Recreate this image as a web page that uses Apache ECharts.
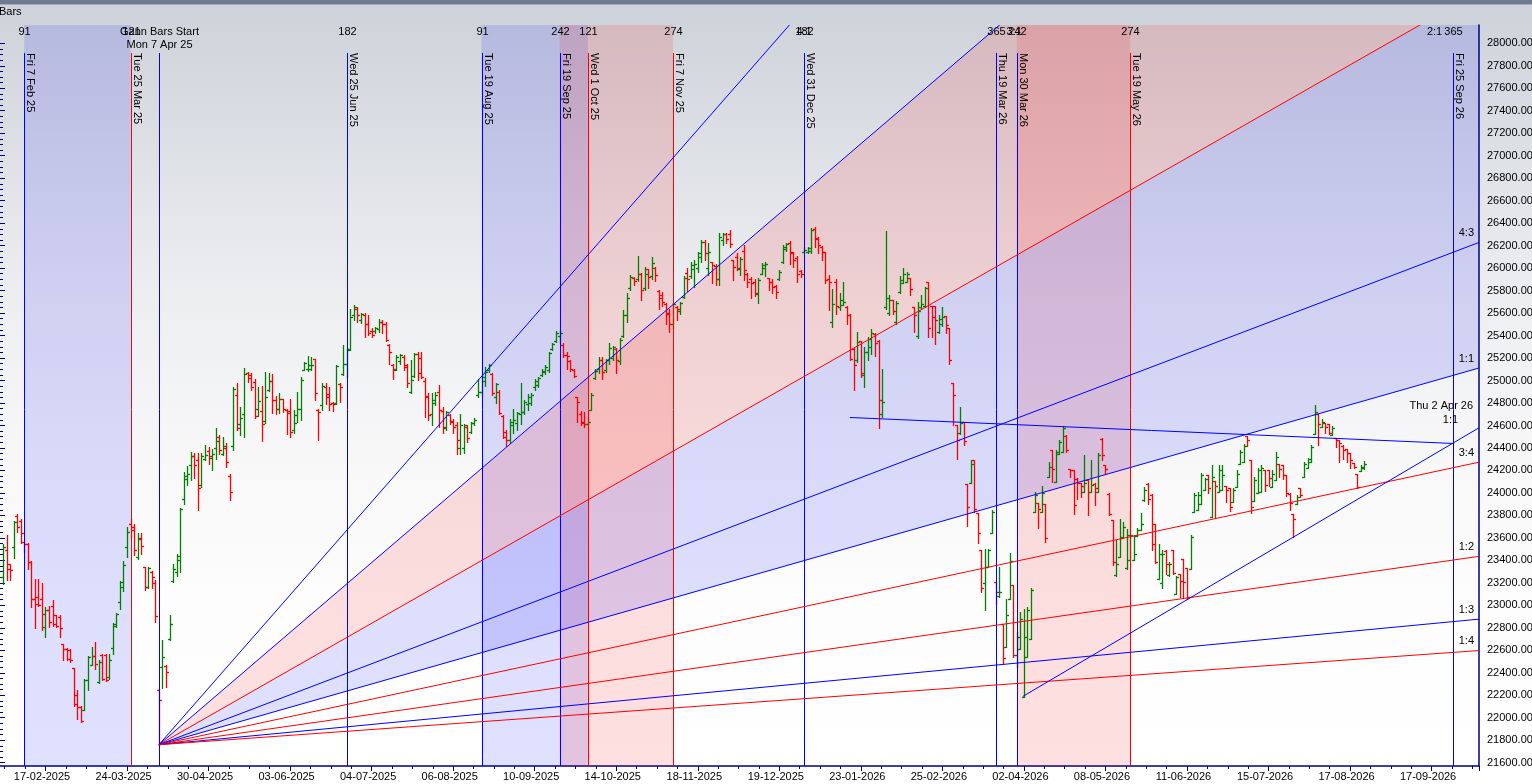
<!DOCTYPE html>
<html lang="en">
<head>
<meta charset="UTF-8">
<title>Gann Bars</title>
<script src="https://cdn.jsdelivr.net/npm/echarts@6.0.0/dist/echarts.min.js"></script>
<style>
  html, body { margin: 0; padding: 0; background: #fff; }
  #chart { width: 1532px; height: 784px; }
</style>
</head>
<body>
<div id="chart"></div>
<script>
// ---------------- data ----------------
// x axis is counted in bars, 17-02-2025 is bar 0, one date label every 23 bars
var tickStep = 23;
var tickLabels = ['17-02-2025', '24-03-2025', '30-04-2025', '03-06-2025', '04-07-2025', '06-08-2025',
    '10-09-2025', '14-10-2025', '18-11-2025', '19-12-2025', '23-01-2026', '25-02-2026',
    '02-04-2026', '08-05-2026', '11-06-2026', '15-07-2026', '17-08-2026', '17-09-2026'];

// daily bars [open, high, low, close], first row is bar -12
var firstBar = -12;
var ohlc = [
    /* -12 */ [23250,23545,23190,23520],[23490,23630,23225,23320],[23365,23370,23225,23310],[23515,23750,23425,23740],[23795,23810,23655,23700],
    /*  -7 */ [23750,23765,23555,23645],[23560,23565,23470,23550],[23550,23555,23320,23385],[23385,23395,22985,23060],[23060,23230,22800,23015],
    /*  -2 */ [23070,23230,22990,23000],[23060,23195,22780,22925],[22810,22985,22720,22955],[22960,22990,22805,22850],[22990,23045,22815,22835],
    /*   3 */ [22910,22915,22805,22820],[22900,22910,22720,22795],[22655,22660,22510,22610],[22615,22620,22510,22525],[22600,22610,22500,22510],
    /*   8 */ [22440,22445,22100,22125],[22200,22250,21990,22095],[22095,22100,21960,21975],[22070,22345,22065,22340],[22340,22545,22250,22540],
    /*  13 */ [22470,22625,22465,22545],[22545,22670,22430,22480],[22320,22515,22310,22500],[22560,22570,22335,22345],[22560,22565,22330,22335],
    /*  18 */ [22360,22570,22345,22510],[22620,22845,22570,22835],[22820,22935,22805,22925],[23030,23215,22970,23205],[23160,23395,23130,23355],
    /*  23 */ [23520,23695,23430,23655],[23720,23770,23595,23670],[23700,23725,23445,23490],[23430,23645,23415,23590],[23600,23640,23455,23525],
    /*  28 */ [23340,23345,23140,23165],[23160,23340,23150,23330],[23300,23305,23150,23250],[23200,23225,22850,22905],[22250,22255,21745,22160],
    /*  33 */ [22450,22690,22265,22540],[22460,22465,22270,22405],[22700,22915,22695,22830],[23220,23370,23210,23325],[23300,23455,23265,23435],
    /*  38 */ [23400,23870,23300,23855],[23950,24185,23905,24125],[24150,24240,24070,24170],[24250,24365,24115,24330],[24330,24355,24135,24245],
    /*  43 */ [24290,24355,23850,24040],[24070,24355,24055,24330],[24300,24430,24290,24335],[24370,24410,24260,24330],[24310,24395,24200,24345],
    /*  48 */ [24400,24580,24305,24460],[24500,24515,24350,24380],[24350,24495,24335,24415],[24400,24445,24230,24275],[24150,24165,23940,24010],
    /*  53 */ [24420,24940,24385,24925],[24870,24975,24560,24580],[24610,24765,24515,24665],[24700,25115,24500,25060],[25070,25080,24990,25020],
    /*  58 */ [25050,25070,24915,24945],[24990,25010,24670,24685],[24745,24945,24680,24815],[24730,24950,24460,24610],[24640,25080,24620,24855],
    /*  63 */ [24920,25070,24910,25000],[25000,25060,24710,24825],[24830,24860,24700,24750],[24750,24885,24710,24835],[24835,24840,24720,24750],
    /*  68 */ [24740,24750,24525,24715],[24730,24840,24495,24540],[24560,24735,24530,24620],[24690,24900,24630,24750],[24750,25035,24645,25005],
    /*  73 */ [25095,25165,25090,25155],[25100,25215,25085,25140],[25100,25210,25090,25140],[25190,25195,24825,24890],[24740,24750,24475,24720],
    /*  78 */ [24780,24975,24735,24955],[24940,24980,24795,24855],[24880,24945,24740,24795],[24800,24810,24730,24790],[24800,25135,24790,25125],
    /*  83 */ [24970,24975,24810,24945],[25060,25315,25045,25150],[25150,25285,25035,25270],[25280,25640,25270,25565],[25580,25670,25535,25650],
    /*  88 */ [25640,25655,25520,25580],[25540,25600,25515,25590],[25580,25600,25385,25505],[25500,25580,25405,25420],[25440,25470,25390,25405],
    /*  93 */ [25440,25480,25425,25465],[25460,25545,25435,25520],[25520,25535,25420,25505],[25500,25520,25355,25360],[25320,25325,25150,25255],
    /*  98 */ [25140,25150,25010,25090],[25100,25225,25090,25210],[25170,25240,25150,25225],[25210,25225,25090,25120],[25140,25150,24945,24975],
    /* 103 */ [24900,25180,24885,25005],[25040,25245,25035,25240],[25240,25250,25005,25065],[25200,25250,25025,25035],[25000,25020,24675,24855],
    /* 108 */ [24860,24885,24645,24690],[24700,24890,24600,24825],[24800,24900,24780,24870],[24900,24960,24585,24735],[24730,24765,24535,24585],
    /* 113 */ [24580,24730,24560,24720],[24690,24705,24615,24630],[24640,24660,24530,24585],[24600,24630,24350,24470],[24400,24700,24350,24600],
    /* 118 */ [24400,24610,24355,24605],[24590,24600,24455,24485],[24540,24630,24535,24620],[24620,24670,24600,24645],[24870,25010,24855,24900],
    /* 123 */ [24900,25045,24860,25035],[25000,25120,24950,25075],[25090,25150,25075,25135],[25060,25065,24870,24885],[24850,24980,24800,24970],
    /* 128 */ [24900,24915,24705,24710],[24680,24690,24485,24500],[24540,24560,24415,24470],[24470,24655,24440,24630],[24600,24750,24530,24645],
    /* 133 */ [24620,24720,24560,24710],[24700,24980,24615,24720],[24720,24825,24705,24810],[24790,24880,24735,24855],[24800,24885,24780,24870],
    /* 138 */ [24940,25010,24920,25000],[24960,25035,24945,25020],[25050,25100,25040,25085],[25080,25135,25055,25120],[25090,25255,25075,25245],
    /* 143 */ [25280,25330,25270,25325],[25350,25440,25345,25420],[25400,25450,25335,25425],[25320,25335,25210,25225],[25230,25255,25105,25215],
    /* 148 */ [25170,25180,25085,25100],[25090,25105,25035,25040],[24850,24855,24630,24810],[24700,24730,24600,24620],[24630,24720,24585,24610],
    /* 153 */ [24610,24675,24600,24630],[24740,24885,24735,24870],[25020,25100,25010,25085],[25100,25210,25065,25180],[25180,25205,25010,25075],
    /* 158 */ [25090,25195,25075,25180],[25180,25330,25150,25285],[25200,25305,25180,25300],[25280,25285,25065,25180],[25170,25375,25150,25360],
    /* 163 */ [25400,25625,25385,25580],[25580,25775,25520,25730],[25820,25935,25805,25925],[25910,25925,25850,25885],[25900,26105,25885,25950],
    /* 168 */ [25950,25960,25715,25805],[25820,26010,25805,25950],[25990,25995,25820,25920],[25930,26095,25900,26045],[26000,26010,25885,25935],
    /* 173 */ [25800,25805,25640,25730],[25760,25790,25660,25700],[25680,25690,25500,25595],[25600,25640,25435,25505],[25500,25690,25465,25685],
    /* 178 */ [25650,25660,25535,25640],[25620,25700,25595,25690],[25740,25930,25730,25915],[25960,26005,25800,25905],[25930,26055,25910,26025],
    /* 183 */ [25990,26070,25835,26040],[26000,26145,25965,26130],[26100,26250,26055,26235],[26230,26250,26075,26130],[26000,26220,25935,26145],
    /* 188 */ [26050,26055,25865,26025],[26020,26040,25850,25900],[25900,26310,25850,26280],[26250,26315,26205,26300],[26300,26315,26220,26255],
    /* 193 */ [26300,26340,26190,26215],[26070,26075,25895,26010],[26100,26130,25980,25995],[26000,26095,25935,26085],[26150,26205,25895,25980],
    /* 198 */ [25950,25960,25835,25880],[25900,25925,25730,25865],[25880,25900,25750,25775],[25770,25915,25690,25895],[25950,26045,25945,26025],
    /* 203 */ [26000,26055,25930,26040],[25910,25915,25805,25880],[25880,25900,25775,25835],[25840,25850,25730,25790],[25900,25980,25895,25965],
    /* 208 */ [26050,26205,26045,26190],[26170,26225,26155,26215],[26220,26245,26040,26140],[26130,26145,26010,26070],[26090,26105,25880,25950],
    /* 213 */ [25975,25980,25925,25945],[26140,26190,26130,26165],[26140,26190,26130,26175],[26150,26355,26130,26340],[26350,26370,26190,26265],
    /* 218 */ [26260,26280,26130,26205],[26190,26195,26070,26145],[26140,26145,25865,25895],[25900,25935,25625,25880],[25520,25810,25480,25685],
    /* 223 */ [25880,25900,25595,25660],[25650,25780,25625,25715],[25675,25880,25670,25700],[25650,25660,25500,25580],[25580,25590,25180,25195],
    /* 228 */ [25280,25285,24915,25135],[25180,25435,25165,25345],[25350,25355,25035,25065],[25050,25300,24940,25255],[25250,25390,25180,25365],
    /* 233 */ [25300,25455,25240,25425],[25415,25420,25215,25330],[25355,25360,24575,24825],[24700,25105,24675,24810],[25650,26330,25640,25730],
    /* 238 */ [25600,25760,25580,25715],[25715,25715,25595,25620],[25520,25710,25505,25690],[25790,25930,25780,25895],[25870,26005,25865,25950],
    /* 243 */ [25880,25965,25880,25950],[25915,25915,25760,25810],[25650,25655,25435,25580],[25400,25700,25375,25620],[25650,25760,25640,25685],
    /* 248 */ [25660,25835,25655,25820],[25875,25880,25390,25465],[25660,25660,25390,25565],[25660,25660,25325,25535],[25430,25580,25420,25545],
    /* 253 */ [25500,25650,25485,25565],[25570,25575,25420,25490],[25470,25470,25145,25185],[24975,24980,24600,24870],[24600,24600,24305,24470],
    /* 258 */ [24530,24765,24525,24625],[24630,24630,24425,24465],[24075,24075,23705,23875],[24085,24295,24085,24260],[24295,24295,23830,23860],
    /* 263 */ [23820,23820,23555,23640],[23490,23490,23120,23150],[23200,23505,22955,23340],[23340,23505,23340,23490],[23640,23850,23640,23830],
    /* 268 */ [23205,23210,23015,23120],[23080,23340,23075,23120],[22835,22835,22480,22535],[22630,23060,22630,22910],[23060,23465,23060,23395],
    /* 273 */ [23180,23180,22540,22555],[22560,22760,22450,22720],[22615,22940,22615,22880],[22185,22970,22185,22720],[22540,22985,22540,22955],
    /* 278 */ [22700,23150,22700,23135],[23830,24010,23830,23980],[23910,23910,23685,23860],[23830,24060,23830,23995],[23905,23905,23565,23595],
    /* 283 */ [24140,24275,24140,24235],[24385,24385,24100,24215],[24100,24380,24100,24365],[24350,24475,24350,24455],[24365,24595,24365,24575],
    /* 288 */ [24510,24515,24365,24380],[24215,24215,24140,24200],[24200,24200,23815,23890],[24125,24130,23950,24085],[24085,24090,23960,24060],
    /* 293 */ [24010,24335,24010,24085],[24115,24120,23800,24010],[24010,24295,24010,24070],[24080,24085,23890,24040],[24010,24355,24010,24335],
    /* 298 */ [24480,24485,24290,24335],[24245,24245,24170,24215],[23990,23995,23800,23815],[23755,23755,23355,23385],[23270,23585,23265,23370],
    /* 303 */ [23430,23770,23430,23595],[23610,23740,23610,23695],[23330,23675,23325,23625],[23400,23840,23400,23625],[23400,23625,23400,23460],
    /* 308 */ [23615,23685,23615,23670],[23670,23820,23670,23725],[23935,24050,23930,24030],[24080,24085,23905,23950],[23980,23990,23490,23550],
    /* 313 */ [23720,23725,23375,23385],[23230,23550,23230,23460],[23200,23495,23155,23460],[23480,23490,23280,23370],[23270,23385,23265,23370],
    /* 318 */ [23495,23495,23275,23290],[23105,23265,23105,23250],[23280,23280,23075,23215],[23415,23415,23075,23210],[23335,23335,23060,23075],
    /* 323 */ [23320,23630,23320,23610],[23830,24000,23830,23980],[23845,24010,23845,23980],[23905,24180,23905,24155],[24025,24130,24025,24120],
    /* 328 */ [24155,24155,23995,24040],[23790,24245,23785,24145],[24110,24110,23785,24060],[24010,24245,24010,24200],[24025,24245,24025,24155],
    /* 333 */ [24060,24060,23920,24030],[24040,24040,23840,23875],[23920,24040,23920,24025],[24055,24200,24055,24170],[24260,24380,24260,24365],
    /* 338 */ [24275,24435,24275,24415],[24510,24510,24415,24470],[24295,24295,23820,23875],[23930,24145,23930,24115],[23995,24225,23995,24200],
    /* 343 */ [24010,24245,24010,24225],[24205,24205,24020,24070],[24200,24200,24060,24130],[24055,24200,24055,24170],[24115,24365,24115,24320],
    /* 348 */ [24260,24260,24145,24210],[24245,24245,24120,24155],[24155,24155,23970,23995],[23990,23995,23850,23910],[23815,23815,23610,23770],
    /* 353 */ [23900,23980,23900,23965],[24040,24040,23965,23980],[24140,24275,24140,24260],[24225,24315,24225,24305],[24275,24425,24275,24410],
    /* 358 */ [24525,24780,24520,24720],[24700,24705,24425,24615],[24590,24655,24590,24630],[24620,24625,24530,24590],[24615,24615,24520,24535],
    /* 363 */ [24515,24595,24515,24580],[24485,24485,24410,24470],[24475,24475,24275,24440],[24420,24425,24305,24380],[24395,24395,24275,24355],
    /* 368 */ [24355,24355,24225,24290],[24265,24265,24225,24230],[24165,24165,24040,24050],[24195,24245,24195,24235],[24220,24285,24215,24260]
];

// time cycle lines (bar index), their dates and day counts
var cycleBars   = [-6, 24, 32, 85, 123, 145, 153, 177, 214, 268, 274, 306, 397];
var cycleDates  = ['Fri 7 Feb 25', 'Tue 25 Mar 25', '', 'Wed 25 Jun 25', 'Tue 19 Aug 25', 'Fri 19 Sep 25',
    'Wed 1 Oct 25', 'Fri 7 Nov 25', 'Wed 31 Dec 25', 'Thu 19 Mar 26', 'Mon 30 Mar 26', 'Tue 19 May 26', 'Fri 25 Sep 26'];
var cycleCounts = ['91', '121', '', '182', '91', '242', '121', '274', '182', '365', '242', '274', '365'];
var startTitle = 'Gann Bars Start';
var startDate = 'Mon 7 Apr 25';

// shaded time windows (bar index from / to)
var bandFrom = [-6, 123, 145, 274];
var bandTo   = [24, 153, 177, 306];

// Gann fan from the 7 Apr 25 low; 1:1 = 9 points per bar
var fanStartBar = 32;
var fanStartPrice = 21760;
var fanUnit = 9;
var fanNames  = ['4:1', '3:1', '2:1', '4:3', '1:1', '3:4', '1:2', '1:3', '1:4'];
var fanRatios = [4, 3, 2, 4 / 3, 1, 3 / 4, 1 / 2, 1 / 3, 1 / 4];
var fanFills  = [['3:1', '2:1'], ['2:1', '1:1']];

// hand drawn trend lines [bar, price]
var trendFrom  = [[226.9, 24671], [275.7, 22190]];
var trendTo    = [[397, 24440], [404.4, 24580]];
var trendNotes = [[], ['Thu 2 Apr 26', '1:1']];

// ---------------- look ----------------
var BLUE = '#0000ff', RED = '#ff0000', NAVY = '#00007f';
var UP = '#008000', DOWN = '#ff0000';
var FAMILY = '"Liberation Sans", Arial, sans-serif';
var FONT = '11px ' + FAMILY;
var redCycles = { 'Tue 25 Mar 25': 1, 'Wed 1 Oct 25': 1, 'Fri 7 Nov 25': 1, 'Tue 19 May 26': 1 };
var fanColor = { '4:1': BLUE, '3:1': BLUE, '2:1': RED, '4:3': BLUE, '1:1': BLUE, '3:4': RED, '1:2': RED, '1:3': BLUE, '1:4': RED };
var bandColor = ['rgba(0,0,255,0.12)', 'rgba(0,0,255,0.12)', 'rgba(255,0,0,0.12)', 'rgba(255,0,0,0.12)'];
var fillColor = ['rgba(255,0,0,0.12)', 'rgba(0,0,255,0.12)'];

var xMin = -23, xMax = 404.37;
var yMin = 21570.6, yMax = 28162.8;

function txt(x, y, s, align) {
    return { type: 'text', x: x, y: y,
        style: { text: s, font: FONT, fill: '#000', align: align || 'center', verticalAlign: 'middle' } };
}

function rayPoint(ratio, bar) {
    return [bar, fanStartPrice + fanUnit * ratio * (bar - fanStartBar)];
}

function renderBand(params, api) {
    var cs = params.coordSys;
    var a = api.coord([api.value(0), yMin]);
    var b = api.coord([api.value(1), yMin]);
    return { type: 'rect', shape: { x: a[0], y: cs.y, width: b[0] - a[0], height: cs.height },
        style: { fill: bandColor[api.value(2)] } };
}

function renderFanFill(params, api) {
    var k = api.value(2);
    var r1 = fanRatios[fanNames.indexOf(fanFills[k][0])];
    var r2 = fanRatios[fanNames.indexOf(fanFills[k][1])];
    var o = api.coord([fanStartBar, fanStartPrice]);
    return { type: 'polygon', shape: { points: [o, api.coord(rayPoint(r1, xMax)), api.coord(rayPoint(r2, xMax))] },
        style: { fill: fillColor[k] } };
}

function renderBar(params, api) {
    var x = api.value(0), o = api.value(1), h = api.value(2), l = api.value(3), c = api.value(4);
    var ph = api.coord([x, h]), pl = api.coord([x, l]), po = api.coord([x, o]), pc = api.coord([x, c]);
    var px = Math.round(ph[0]) + 0.5;
    var st = { stroke: c >= o ? UP : DOWN, lineWidth: 1.3 };
    var yo = Math.round(po[1]) + 0.5, yc = Math.round(pc[1]) + 0.5;
    return { type: 'group', children: [
        { type: 'line', shape: { x1: px, y1: Math.round(ph[1]), x2: px, y2: Math.round(pl[1]) + 1 }, style: st },
        { type: 'line', shape: { x1: px - 2.5, y1: yo, x2: px, y2: yo }, style: st },
        { type: 'line', shape: { x1: px, y1: yc, x2: px + 2.5, y2: yc }, style: st }
    ] };
}

function renderCycle(params, api) {
    var cs = params.coordSys;
    var i = api.value(2);
    var p = api.coord([api.value(0), yMin]);
    var x = Math.round(p[0]) + 0.5;
    var top = cs.y + 28;
    var kids = [{ type: 'line', shape: { x1: x, y1: top, x2: x, y2: cs.y + cs.height },
        style: { stroke: redCycles[cycleDates[i]] ? RED : BLUE, lineWidth: 1 } }];
    if (cycleDates[i]) {
        kids.push({ type: 'text', x: x + 0.5, y: top, rotation: -Math.PI / 2,
            style: { text: cycleDates[i], font: FONT, fill: '#000', align: 'left', verticalAlign: 'bottom' } });
    }
    if (cycleCounts[i]) kids.push(txt(x, cs.y + 7, cycleCounts[i]));
    if (cycleBars[i] === fanStartBar) {
        kids.push(txt(x, cs.y + 7, startTitle));
        kids.push(txt(x, cs.y + 20, startDate));
    }
    return { type: 'group', children: kids };
}

function renderFan(params, api) {
    var cs = params.coordSys;
    var i = api.value(2), name = fanNames[i], r = fanRatios[i];
    var o = api.coord([fanStartBar, fanStartPrice]);
    var end = api.coord(rayPoint(r, xMax));
    var kids = [{ type: 'line', shape: { x1: o[0], y1: o[1], x2: end[0], y2: end[1] },
        style: { stroke: fanColor[name], lineWidth: 1 } }];
    if (end[1] < cs.y) {
        var t = api.coord([fanStartBar + (yMax - fanStartPrice) / (fanUnit * r), yMax]);
        kids.push(txt(t[0] + 7, t[1] + 7, name, 'left'));
    } else {
        kids.push(txt(end[0] - 5, end[1] - 9.5, name, 'right'));
    }
    return { type: 'group', children: kids };
}

function renderTrend(params, api) {
    var i = api.value(2);
    var a = api.coord(trendFrom[i]), b = api.coord(trendTo[i]);
    var kids = [{ type: 'line', shape: { x1: a[0], y1: a[1], x2: b[0], y2: b[1] }, style: { stroke: BLUE, lineWidth: 1 } }];
    if (trendNotes[i].length) {
        kids.push(txt(b[0] - 6, b[1] - 21.7, trendNotes[i][0], 'right'));
        kids.push(txt(b[0] - 21, b[1] - 7.7, trendNotes[i][1], 'right'));
    }
    return { type: 'group', children: kids };
}

var barData = ohlc.map(function (r, i) { return [firstBar + i, r[0], r[1], r[2], r[3]]; });
var cycleData = cycleBars.map(function (b, i) { return [b, yMin, i]; });
var bandData = bandFrom.map(function (b, i) { return [b, bandTo[i], i]; });
var fanData = fanRatios.map(function (r, i) { return [fanStartBar, fanStartPrice, i]; });
var fillData = fanFills.map(function (f, i) { return [fanStartBar, fanStartPrice, i]; });
var trendData = trendFrom.map(function (p, i) { return [p[0], p[1], i]; });

var myChart = echarts.init(document.getElementById('chart'), null, { renderer: 'canvas' });

var option = {
    animation: false,
    graphic: [
        { type: 'rect', z: -100, silent: true, shape: { x: 0, y: 0, width: 1532, height: 784 },
          style: { fill: new echarts.graphic.LinearGradient(0, 0, 0, 1, [
              { offset: 0, color: '#cdd1d9' }, { offset: 0.13, color: '#d8dbe1' },
              { offset: 0.28, color: '#e5e7eb' }, { offset: 0.4, color: '#eeeff1' },
              { offset: 0.6, color: '#f8f8f9' }, { offset: 0.78, color: '#fdfdfd' },
              { offset: 1, color: '#ffffff' }]) } },
        { type: 'rect', z: 100, silent: true, shape: { x: 0, y: 0, width: 1532, height: 4 }, style: { fill: '#6e7a90' } },
        { type: 'rect', z: 100, silent: true, shape: { x: 0, y: 4, width: 1532, height: 1 }, style: { fill: '#a7abb3' } },
        { type: 'text', z: 100, silent: true, x: -1, y: 12,
          style: { text: 'Bars', font: FONT, fill: '#000', align: 'left', verticalAlign: 'middle' } }
    ],
    grid: [
        { left: -36.04, right: 53, top: 25, bottom: 18, containLabel: false, outerBoundsMode: 'none' },
        { left: 0, right: 53, top: 43.3, bottom: 21.3, containLabel: false, outerBoundsMode: 'none' }
    ],
    xAxis: [
        { type: 'value', gridIndex: 0, min: xMin, max: xMax, interval: tickStep,
          axisLine: { show: true, onZero: false, lineStyle: { color: NAVY, width: 1.5 } },
          axisTick: { show: true, length: 5, lineStyle: { color: NAVY } },
          minorTick: { show: true, splitNumber: 4, length: 3, lineStyle: { color: NAVY } },
          splitLine: { show: false }, minorSplitLine: { show: false },
          axisLabel: { margin: 5, color: '#000', fontSize: 11, fontFamily: FAMILY, padding: [0, 7, 0, 0],
              formatter: function (v) {
                  var k = Math.round(v / tickStep);
                  return (Math.abs(v - k * tickStep) < 1e-6 && tickLabels[k]) ? tickLabels[k] : '';
              } } },
        { type: 'value', gridIndex: 1, min: 0, max: 1, show: false }
    ],
    yAxis: [
        { type: 'value', gridIndex: 0, position: 'right', min: yMin, max: yMax,
          axisLine: { show: true, onZero: false, lineStyle: { color: NAVY, width: 1.5 } },
          axisTick: { show: false }, axisLabel: { show: false }, splitLine: { show: false } },
        { type: 'value', gridIndex: 1, position: 'right', min: 21600, max: 28000, interval: 200,
          axisLine: { show: false },
          axisTick: { show: true, length: 5, lineStyle: { color: NAVY } },
          minorTick: { show: true, splitNumber: 4, length: 3, lineStyle: { color: NAVY } },
          splitLine: { show: false }, minorSplitLine: { show: false },
          axisLabel: { margin: 8, color: '#000', fontSize: 11, fontFamily: FAMILY,
              formatter: function (v) { return v.toFixed(2); } } }
    ],
    series: [
        { type: 'custom', name: 'windows', z: 1, silent: true, clip: true, renderItem: renderBand,
          encode: { x: [0, 1] }, data: bandData },
        { type: 'custom', name: 'fan fill', z: 1, silent: true, clip: true, renderItem: renderFanFill,
          encode: { x: 0, y: 1 }, data: fillData },
        { type: 'custom', name: 'bars', z: 2, silent: true, clip: true, renderItem: renderBar,
          encode: { x: 0, y: [1, 2, 3, 4] }, data: barData },
        { type: 'custom', name: 'cycles', z: 3, silent: true, clip: true, renderItem: renderCycle,
          encode: { x: 0, y: 1 }, data: cycleData },
        { type: 'custom', name: 'fan', z: 4, silent: true, clip: true, renderItem: renderFan,
          encode: { x: 0, y: 1 }, data: fanData },
        { type: 'custom', name: 'trend', z: 4, silent: true, clip: true, renderItem: renderTrend,
          encode: { x: 0, y: 1 }, data: trendData }
    ]
};
myChart.setOption(option);
</script>
</body>
</html>
